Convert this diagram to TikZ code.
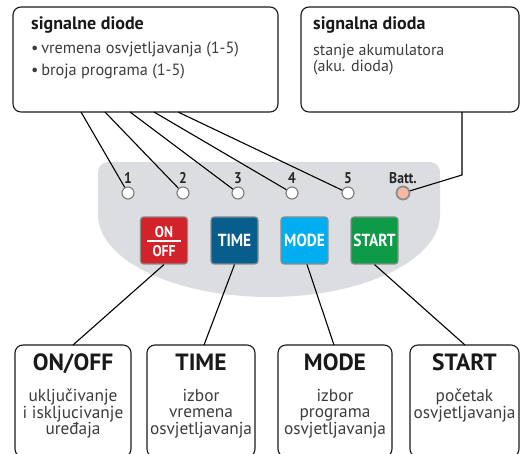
\documentclass[tikz,border=0pt]{standalone}
\usepackage{fontspec}
\setmainfont{PT Sans}
\newfontfamily\condfont[FakeStretch=0.88]{PT Sans}
\definecolor{panelgray}{HTML}{DCDDE0}
\definecolor{onred}{HTML}{D2232A}
\definecolor{timeblue}{HTML}{075D8B}
\definecolor{modecyan}{HTML}{00AEEF}
\definecolor{startgreen}{HTML}{0D9B48}
\definecolor{btnedge}{HTML}{8C8C8C}
\definecolor{lededge}{HTML}{7A7A7A}
\definecolor{battfill}{HTML}{F5B9A1}
\definecolor{txtgray}{HTML}{3C3C3C}
\begin{document}
\begin{tikzpicture}[x=1pt,y=-1pt,
  box/.style={draw=black!90, line width=1.1pt, rounded corners=8pt, inner sep=0pt},
  ttl/.style={font=\bfseries\fontsize{18}{18}\selectfont, text=black!90, inner sep=0pt},
  txt/.style={font=\fontsize{16.3}{16.3}\selectfont, text=txtgray, inner sep=0pt},
  big/.style={font=\bfseries\fontsize{23.5}{23.5}\selectfont, text=black!90, inner sep=0pt},
  body/.style={font=\fontsize{17.3}{16.5}\selectfont, text=txtgray, align=center, inner sep=0pt},
  led/.style={circle, draw=lededge, fill=white, line width=1.1pt, minimum size=12pt, inner sep=0pt},
  batled/.style={circle, draw=btnedge, fill=battfill, line width=1.8pt, minimum size=13pt, inner sep=0pt},
  ledlbl/.style={font=\condfont\bfseries\fontsize{15.5}{15.5}\selectfont, text=black!85, inner sep=0pt},
  btn/.style={draw=btnedge, line width=1.1pt, rounded corners=3pt, minimum width=47pt, minimum height=47pt, inner sep=0pt, text=white, font=\condfont\bfseries\fontsize{17.5}{17.5}\selectfont},
  btntxt/.style={text=white, font=\condfont\bfseries\fontsize{15.5}{15.5}\selectfont, inner sep=0pt},
  conn/.style={draw=black, line width=1.1pt}
]
\useasboundingbox (0,0) rectangle (520,454);
\clip (0,0) rectangle (520,454);

% top boxes
\node[box, minimum width=265pt, minimum height=105pt] (diodes) at (145.5,59.5) {};
\node[box, minimum width=218pt, minimum height=105pt] (batbox) at (410,59.5) {};
\node[ttl, anchor=base west] (t1) at (31,29.5) {signalne diode};
\node[txt, anchor=base west] (b1) at (31,54) {•\,vremena osvjetljavanja (1-5)};
\node[txt, anchor=base west] (b2) at (31,76) {•\,broja programa (1-5)};
\node[ttl, anchor=base west] (t2) at (313,29.5) {signalna dioda};
\node[txt, anchor=north west, align=left, font=\fontsize{16}{13.5}\selectfont] (s1) at (313,44) {stanje akumulatora\\(aku. dioda)};

% panel
\fill[panelgray] (98,215) [rounded corners=10pt] -- (98,162) -- (440,162) [sharp corners] -- (440,215)
  .. controls (440,260) and (363,297) .. (269,297)
  .. controls (175,297) and (98,260) .. (98,215) -- cycle;

% LEDs
\foreach \i/\x in {1/128,2/183,3/238,4/292,5/348} {
  \node[led] (led\i) at (\x,193) {};
  \node[ledlbl] (lbl\i) at (\x,178) {\i};
}
\node[batled] (ledB) at (403,193) {};
\node[ledlbl] (lblB) at (403,178) {Batt.};

% connectors from top boxes
\foreach \i/\x in {1/81,2/105,3/130,4/154,5/178} {
  \coordinate (d\i) at (\x,112);
  \draw[conn] (d\i) -- (led\i);
}
\coordinate (bb) at (462,112);
\coordinate (bk) at (462,175);
\draw[conn] (bb) -- (bk) -- (ledB);

% buttons
\node[btn, fill=onred] (onoff) at (164,240.5) {};
\node[btntxt] (onlbl) at (164,232) {ON};
\node[btntxt] (offlbl) at (164,251) {OFF};
\draw[white, line width=1.4pt] (147,241) -- (181,241);
\node[btn, fill=timeblue] (time) at (234.5,240.5) {TIME};
\node[btn, fill=modecyan] (mode) at (304.5,240.5) {MODE};
\node[btn, fill=startgreen] (start) at (374.5,240.5) {START};

% bottom boxes
\node[box, minimum width=116pt, minimum height=112pt] (onbox) at (73,401) {};
\node[box, minimum width=108pt, minimum height=112pt] (timebox) at (201,401) {};
\node[box, minimum width=114pt, minimum height=112pt] (modebox) at (335,401) {};
\node[box, minimum width=109pt, minimum height=112pt] (startbox) at (464.5,401) {};

\node[big, anchor=base] (onT) at (73,370.5) {ON/OFF};
\node[big, anchor=base] (timeT) at (201,370.5) {TIME};
\node[big, anchor=base] (modeT) at (335,370.5) {MODE};
\node[big, anchor=base] (startT) at (464.5,370.5) {START};

\node[body, anchor=north] (onB) at (73,389) {uključivanje\\i iskljucivanje\\uređaja};
\node[body, anchor=north] (timeB) at (201,389) {izbor\\vremena\\osvjetljavanja};
\node[body, anchor=north] (modeB) at (335,389) {izbor\\programa\\osvjetljavanja};
\node[body, anchor=north] (startB) at (464.5,389) {početak\\osvjetljavanja};

% connectors from buttons
\coordinate (c1) at (73,345);
\coordinate (c2) at (204,345);
\coordinate (c3) at (334,345);
\coordinate (c4) at (465,345);
\draw[conn] (onoff.south) -- (c1);
\draw[conn] (time.south) -- (c2);
\draw[conn] ([xshift=2.5pt]mode.south) -- (c3);
\draw[conn] (start.south) -- (c4);
\end{tikzpicture}
\end{document}
